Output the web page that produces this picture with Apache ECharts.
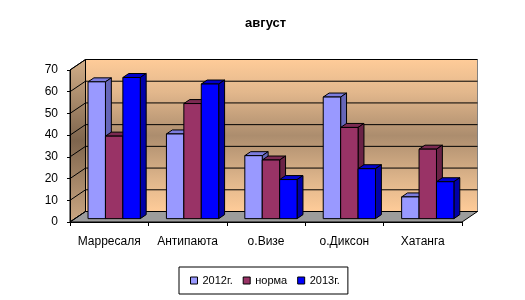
<!DOCTYPE html>
<html><head><meta charset="utf-8">
<script src="https://cdn.jsdelivr.net/npm/echarts/dist/echarts.min.js"></script>
<style>html,body{margin:0;padding:0;background:#fff}#c{width:525px;height:300px}</style>
</head><body><div id="c"></div>
<script>
// ---- data ----
const title = 'август';
const categories = ['Марресаля', 'Антипаюта', 'о.Визе', 'о.Диксон', 'Хатанга'];
const seriesNames = ['2012г.', 'норма', '2013г.'];
const s2012 = [63, 39, 29, 56, 10];
const sNorma = [38, 53, 27, 42, 32];
const s2013 = [65, 62, 18, 23, 17];
const yTicks = [0, 10, 20, 30, 40, 50, 60, 70];

// ---- styling ----
const FONT = 'Liberation Sans, Arial, sans-serif';
const D = [15.5, -10.5];          // full depth offset (front plane -> back wall)
const FF = 0.32, FB = 0.70;       // bar front/back depth fractions
const palette = [
  {front:'#9999FF', side:'#6666B8', top:'#7C7CDD'},
  {front:'#993366', side:'#6A2346', top:'#7B2A52'},
  {front:'#0000FF', side:'#0000A8', top:'#0000CC'}
];
const allSeries = [s2012, sNorma, s2013];

function bgRender(params, api) {
  const cs = params.coordSys;
  const L = cs.x, R = cs.x + cs.width, T = cs.y, B = cs.y + cs.height;
  const dx = D[0], dy = D[1];
  const ch = [];
  // back wall
  ch.push({type:'rect', shape:{x:L+dx, y:T+dy, width:R-L, height:B-T},
    style:{fill:new echarts.graphic.LinearGradient(0,0,0,1,[
      {offset:0,color:'#FFCC99'},{offset:0.22,color:'#E2B78C'},{offset:0.5,color:'#AC8D6E'},
      {offset:0.78,color:'#DDB48A'},{offset:1,color:'#FFCC99'}]), stroke:'#808080', lineWidth:1}});
  // left wall
  ch.push({type:'polygon', shape:{points:[[L,B],[L,T],[L+dx,T+dy],[L+dx,B+dy]]},
    style:{fill:new echarts.graphic.LinearGradient(0,0,0,1,[
      {offset:0,color:'#D2AE88'},{offset:0.5,color:'#7E654D'},{offset:1,color:'#CCA883'}]), stroke:'#000', lineWidth:1}});
  // floor
  ch.push({type:'polygon', shape:{points:[[L,B],[R,B],[R+dx,B+dy],[L+dx,B+dy]]},
    style:{fill:'#9C9C9C', stroke:'#000', lineWidth:1}});
  // gridlines
  yTicks.forEach(function(v){
    const y = api.coord([0, v])[1];
    ch.push({type:'line', shape:{x1:L+dx, y1:y+dy, x2:R+dx, y2:y+dy}, style:{stroke:'#000', lineWidth:1}});
    ch.push({type:'line', shape:{x1:L, y1:y, x2:L+dx, y2:y+dy}, style:{stroke:'#000', lineWidth:1}});
  });
  return {type:'group', children:ch, silent:true};
}

function barRender(k) {
  const col = palette[k];
  return function(params, api) {
    const ci = api.value(0), v = api.value(1);
    const base = api.coord([ci, 0]);
    const top = api.coord([ci, v]);
    const cw = api.size([1, 0])[0];
    const bw = cw / 4.5;
    const fx = D[0]*FF, fy = D[1]*FF;
    const bx = D[0]*(FB-FF), by = D[1]*(FB-FF);
    const x0 = base[0] - 1.5*bw + k*bw + fx;
    const x1 = x0 + bw;
    const yb = base[1] + fy, yt = top[1] + fy;
    return {type:'group', children:[
      {type:'polygon', shape:{points:[[x0,yt],[x1,yt],[x1+bx,yt+by],[x0+bx,yt+by]]},
        style:{fill:col.top, stroke:'#000', lineWidth:1}},
      {type:'polygon', shape:{points:[[x1,yb],[x1,yt],[x1+bx,yt+by],[x1+bx,yb+by]]},
        style:{fill:col.side, stroke:'#000', lineWidth:1}},
      {type:'rect', shape:{x:x0, y:yt, width:bw, height:yb-yt},
        style:{fill:col.front, stroke:'#000', lineWidth:1}}
    ]};
  };
}

const series = [{
  type:'custom', name:'bg', z:1, silent:true, renderItem:bgRender, data:[[0,0]],
  encode:{x:0, y:1}, clip:false
}];
seriesNames.forEach(function(n, k){
  series.push({
    type:'custom', name:n, z:2, renderItem:barRender(k), clip:false,
    itemStyle:{color:palette[k].front, borderColor:'#000', borderWidth:1},
    encode:{x:0, y:1},
    data:allSeries[k].map(function(v,i){return [i, v];})
  });
});

const chart = echarts.init(document.getElementById('c'), null, {renderer:'canvas'});
chart.setOption({
  animation:false,
  backgroundColor:'#fff',
  title:{text:title, left:240, top:12, textStyle:{fontFamily:FONT, fontSize:13, fontWeight:'bold', color:'#000'}},
  grid:{left:70, right:63, top:70, bottom:78, containLabel:false},
  xAxis:{type:'category', data:categories, boundaryGap:true, z:5,
    axisLine:{show:true, lineStyle:{color:'#000', width:1}},
    axisTick:{show:true, length:4, alignWithLabel:false, lineStyle:{color:'#000'}},
    axisLabel:{margin:14, fontFamily:FONT, fontSize:12, color:'#000', interval:0},
    splitLine:{show:false}},
  yAxis:{type:'value', min:yTicks[0], max:yTicks[yTicks.length-1], interval:10, z:5,
    axisLine:{show:true, lineStyle:{color:'#000', width:1}},
    axisTick:{show:true, length:3, lineStyle:{color:'#000'}},
    axisLabel:{margin:12, fontFamily:FONT, fontSize:12, color:'#000'},
    splitLine:{show:false}},
  legend:{
    data:seriesNames.map(function(n,k){return {name:n, icon:'rect',
      itemStyle:{color:palette[k].front, borderColor:'#000', borderWidth:1}};}),
    left:179, top:267, orient:'horizontal',
    itemWidth:7, itemHeight:7, itemGap:10,
    padding:[8, 8, 8, 11],
    borderColor:'#000', borderWidth:1,
    textStyle:{fontFamily:FONT, fontSize:11, color:'#000'},
    selectedMode:false
  },
  series:series
});
</script>
</body></html>
